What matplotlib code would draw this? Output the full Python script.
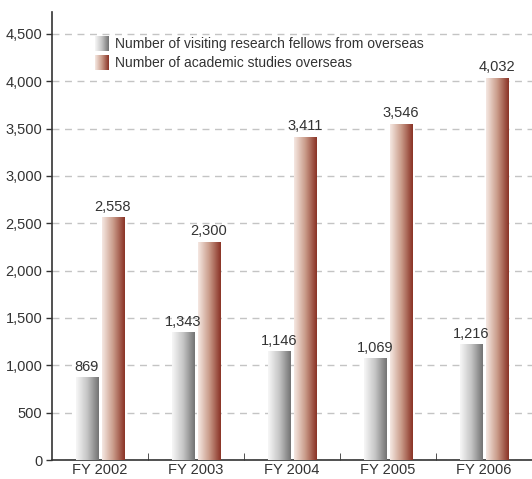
import numpy as np
import matplotlib.pyplot as plt
from matplotlib.colors import LinearSegmentedColormap

plt.rcParams['font.family'] = ['Liberation Sans', 'DejaVu Sans']

years = ['FY 2002', 'FY 2003', 'FY 2004', 'FY 2005', 'FY 2006']
visiting = [869, 1343, 1146, 1069, 1216]
overseas = [2558, 2300, 3411, 3546, 4032]
labels = ['Number of visiting research fellows from overseas',
          'Number of academic studies overseas']

grey_cmap = LinearSegmentedColormap.from_list('g', ['#f7f7f7', '#c4c4c4', '#737373'])
red_cmap = LinearSegmentedColormap.from_list('r', ['#f5e8e2', '#c99a88', '#8a3326'])
grad = np.linspace(0, 1, 64).reshape(1, -1)

fig = plt.figure(figsize=(5.32, 4.79), dpi=100)
ax = fig.add_axes([52 / 532, 19 / 479, 480 / 532, 448 / 479])

x = np.arange(len(years))
w = 0.23
gap = 0.04


def gradient_bars(xs, vals, cmap):
    for xi, v in zip(xs, vals):
        ax.imshow(grad, cmap=cmap, extent=[xi, xi + w, 0, v], aspect='auto',
                  zorder=3, interpolation='bicubic')
        ax.text(xi + w / 2, v + 40, f'{v:,}', ha='center', va='bottom',
                fontsize=10.5, color='#333333', zorder=4)


gradient_bars(x - w - gap / 2, visiting, grey_cmap)
gradient_bars(x + gap / 2, overseas, red_cmap)

ax.set_xlim(-0.5, len(years) - 0.5)
ax.set_ylim(0, 4732)
ax.set_yticks(np.arange(0, 4501, 500))
ax.set_yticklabels([f'{v:,}' for v in range(0, 4501, 500)], fontsize=10.5, color='#333333')
ax.yaxis.grid(True, linestyle=(0, (5, 4)), color='#c4c4c4', linewidth=1, zorder=0)
ax.set_axisbelow(True)

ax.set_xticks(x)
ax.set_xticklabels(years, fontsize=10.5, color='#333333')
ax.tick_params(axis='x', length=0, pad=2)
ax.set_xticks(np.arange(0.5, len(years) - 1, 1), minor=True)
ax.tick_params(axis='x', which='minor', direction='in', length=5, color='#333333')
ax.tick_params(axis='y', length=4, color='#333333', width=1, pad=3)

for s in ['top', 'right']:
    ax.spines[s].set_visible(False)
for s in ['left', 'bottom']:
    ax.spines[s].set_color('#333333')
    ax.spines[s].set_linewidth(1.2)

# legend
for i, (cmap, lab) in enumerate(zip([grey_cmap, red_cmap], labels)):
    y0 = 0.913 - i * 0.042
    ax.imshow(grad, cmap=cmap, extent=[0.0896, 0.117, y0, y0 + 0.033],
              transform=ax.transAxes, aspect='auto', zorder=5)
    ax.text(0.131, y0 + 0.016, lab, transform=ax.transAxes, va='center',
            fontsize=10, color='#333333', zorder=5)

ax.set_xlim(-0.5, len(years) - 0.5)
ax.set_ylim(0, 4732)
plt.savefig('out.png', dpi=100)
